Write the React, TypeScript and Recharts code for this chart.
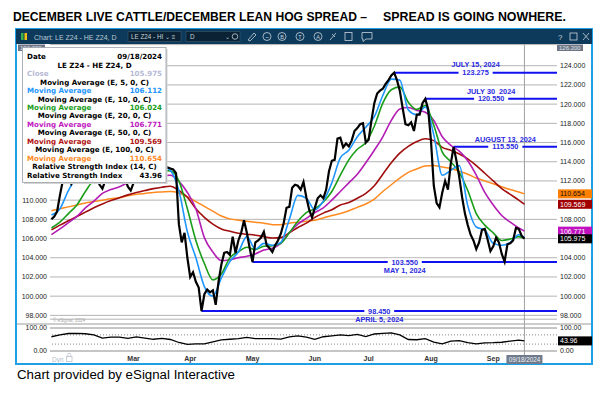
import React from "react";
import { LineChart, Line, XAxis, YAxis, CartesianGrid, ReferenceLine } from "recharts";

const FONT = "'Liberation Sans', Arial, sans-serif";
const BOX_FONT = "'DejaVu Sans', Verdana, sans-serif";

// x = trading-day index, 0 = Jan 2 2024. First bar on screen is day 12.
const firstDay = 12;
const lastDate = "09/18/2024";

const closeValues = [
  108.0, 108.3, 108.8, 110.5, 112.0, 112.8, 112.3, 111.7, 112.4, 113.2, // 12-21
  113.6, 113.2, 113.8, 114.2, 113.7, 113.1, 112.4, 111.6, 111.2, 112.0, // 22-31
  112.9, 113.5, 113.9, 113.4, 113.0, 112.7, 112.2, 111.4, 111.0, 111.8, // 32-41
  112.5, 113.0, 113.6, 113.9, 113.5, 113.8, 114.0, 113.7, 113.4, 113.6, // 42-51
  113.3, 113.4, 113.3, 113.2, 112.8, 107.5, 105.6, 106.6, 104.0, 102.0, // 52-61
  102.5, 101.5, 100.9, 98.45, 100.2, 100.7, 100.4, 100.6, 99.1, 101.5, // 62-71
  103.3, 104.5, 104.6, 104.3, 106.2, 104.5, 105.8, 106.6, 107.9, 106.6, // 72-81
  105.0, 103.55, 105.6, 105.8, 106.1, 106.7, 105.3, 105.0, 104.6, 105.3, // 82-91
  105.8, 106.5, 107.6, 109.2, 109.3, 111.3, 111.6, 111.5, 111.1, 111.9, // 92-101
  110.3, 109.0, 108.2, 109.2, 110.2, 110.5, 110.2, 111.1, 113.0, 114.1, // 102-111
  114.2, 116.4, 116.5, 115.5, 115.9, 115.6, 116.2, 117.2, 117.5, 117.9, // 112-121
  118.0, 116.0, 116.3, 118.3, 120.1, 121.1, 121.4, 121.6, 122.1, 122.5, // 122-131
  123.0, 123.275, 122.5, 121.4, 119.6, 117.9, 117.8, 118.1, 117.2, 118.9, // 132-141
  118.9, 120.1, 120.55, 119.5, 116.2, 111.5, 109.7, 109.25, 110.8, 112.0, // 142-151
  111.1, 113.8, 115.55, 114.1, 112.4, 110.3, 108.6, 107.4, 106.4, 105.8, // 152-161
  104.9, 105.6, 106.9, 107.0, 105.9, 104.7, 105.2, 106.1, 105.6, 104.4, // 162-171
  103.6, 105.4, 105.5, 105.8, 107.1, 107.0, 106.3, 105.975, // 172-179
];

// moving averages + RSI read every 3rd session
const studyDays = [
  12, 15, 18, 21, 24, 27, 30, 33, 36, 39, 42, 45, 48, 51, 54, 57, 60, 63, 66,
  69, 72, 75, 78, 81, 84, 87, 90, 93, 96, 99, 102, 105, 108, 111, 114, 117,
  120, 123, 126, 129, 132, 135, 138, 141, 144, 147, 150, 153, 156, 159, 162,
  165, 168, 171, 174, 177, 179,
];
const ema5 = [
  108.45, 109.1, 111.0, 112.4, 113.2, 113.5, 112.3, 112.6, 113.3, 112.4, 112.2,
  113.2, 113.7, 113.6, 113.1, 111.0, 106.7, 104.0, 101.0, 100.0, 101.9, 103.6,
  104.6, 106.2, 104.9, 105.5, 105.3, 105.6, 108.0, 110.5, 110.2, 109.0, 109.9,
  111.8, 114.4, 115.2, 116.6, 117.6, 118.7, 120.9, 122.6, 122.5, 119.4, 118.9,
  119.7, 116.8, 112.6, 113.1, 113.6, 109.4, 107.2, 106.9, 105.5, 105.3, 105.6,
  106.4, 106.112,
];
const ema10 = [
  107.1, 107.7, 108.6, 109.5, 110.9, 112.0, 112.1, 112.4, 112.7, 112.3, 112.3,
  112.7, 113.0, 113.1, 113.05, 112.0, 109.1, 105.8, 103.4, 101.7, 102.3, 104.0,
  104.6, 105.1, 104.85, 105.2, 105.25, 105.5, 106.6, 107.8, 108.7, 109.1, 109.8,
  110.9, 112.6, 114.2, 115.3, 116.0, 117.7, 120.1, 121.5, 121.8, 120.2, 119.45,
  119.85, 117.8, 115.0, 114.0, 112.9, 111.0, 108.6, 107.4, 106.6, 105.8, 105.95,
  106.2, 106.024,
];
const ema20 = [
  106.4, 107.0, 107.65, 108.3, 109.2, 109.9, 110.7, 111.1, 111.4, 111.8, 112.1,
  112.3, 112.45, 112.55, 112.6, 111.95, 110.8, 109.1, 106.1, 104.6, 103.7, 103.8,
  104.0, 104.15, 104.4, 104.8, 105.0, 105.5, 106.6, 107.5, 108.1, 108.7, 109.2,
  110.0, 110.9, 111.8, 112.7, 113.9, 115.2, 116.6, 118.3, 119.5, 119.65, 119.35,
  119.15, 118.3, 116.6, 115.7, 115.1, 114.1, 112.6, 110.8, 109.5, 108.4, 107.7,
  107.1, 106.771,
];
const ema50 = [
  106.9, 107.4, 107.85, 108.3, 108.75, 109.2, 109.6, 109.95, 110.25, 110.55,
  110.8, 111.0, 111.2, 111.35, 111.45, 111.0, 110.3, 109.1, 108.2, 107.5, 107.0,
  106.75, 106.55, 106.45, 106.35, 106.2, 106.05, 106.1, 106.6, 107.15, 107.6,
  108.2, 108.65, 109.0, 109.5, 109.75, 110.2, 110.7, 111.5, 112.7, 113.9, 114.9,
  115.6, 116.1, 116.4, 116.2, 115.5, 115.2, 114.8, 114.3, 113.6, 112.8, 112.0,
  111.2, 110.6, 110.0, 109.569,
];
const ema100 = [
  108.9, 109.1, 109.3, 109.5, 109.7, 109.85, 110.0, 110.15, 110.25, 110.45,
  110.6, 110.7, 110.8, 110.85, 110.9, 110.75, 110.35, 109.85, 109.35, 108.85,
  108.35, 108.05, 107.9, 107.8, 107.7, 107.6, 107.45, 107.45, 107.6, 107.7,
  107.8, 107.9, 108.15, 108.4, 108.6, 108.9, 109.25, 109.6, 110.1, 110.9, 111.6,
  112.3, 112.9, 113.25, 113.55, 113.6, 113.45, 113.3, 113.0, 112.7, 112.3, 112.0,
  111.7, 111.4, 111.1, 110.85, 110.654,
];
const rsi14 = [
  62, 70, 76, 77, 75, 70, 56, 60, 60, 55, 61, 56, 51, 55, 50, 37, 29, 31, 31, 40,
  48, 51, 54, 59, 54, 54, 54, 52, 61, 66, 60, 51, 62, 66, 70, 67, 72, 63, 74, 77,
  79, 70, 50, 49, 54, 39, 31, 43, 45, 36, 31, 35, 36, 38, 43, 47, 43.96,
];

const monthTicks = [41, 61, 83, 105, 124, 146, 168];
const monthNames = ["Mar", "Apr", "May", "Jun", "Jul", "Aug", "Sep"];
const priceTicks = [98, 100, 102, 104, 106, 108, 110, 112, 114, 116, 118, 120, 122, 124];
// left scale labels above 110 sit under the data window
const leftPriceTicks = [98, 100, 102, 104, 106, 108, 110];
// right scale labels hidden behind the last-value tags
const coveredRightTicks = [106, 110];

const levels = [
  { day: 65, value: 98.45, date: "APRIL 5, 2024", above: false },
  { day: 83, value: 103.55, date: "MAY 1, 2024", above: false },
  { day: 133, value: 123.275, date: "JULY 15, 2024", above: true },
  { day: 144, value: 120.55, date: "JULY 30  2024", above: true },
  { day: 154, value: 115.55, date: "AUGUST 13, 2024", above: true },
];

const X_DOMAIN: [number, number] = [11.5, 190.5];
const Y_DOMAIN: [number, number] = [97.6, 126.2];

const C_CLOSE = "#000000";
const C5 = "#1e96ff";
const C10 = "#1a9e1a";
const C20 = "#b41db4";
const C50 = "#a00d0d";
const C100 = "#ff8a1f";
const LEVEL = "#1010f0";
const LEVEL_TEXT = "#2a2ae0";
const GRID = "#b4b4b4";
const CURSOR = "#a0a0a0";

const closeData = closeValues.map((v, i) => ({ day: firstDay + i, v }));
const toSeries = (vals: number[]) => studyDays.map((d, i) => ({ day: d, v: vals[i] }));
const lastOf = (a: number[]) => a[a.length - 1];

function RightPriceTick({ x, y, payload }: any) {
  if (coveredRightTicks.includes(payload.value)) return <g />;
  return (
    <text x={x} y={y} dy="0.35em" textAnchor="start" fontSize={7} fontFamily={FONT} fill="#222">
      {Number(payload.value).toFixed(3)}
    </text>
  );
}

function PriceTag({ viewBox, text, bg, fg }: any) {
  if (!viewBox) return null;
  const x = viewBox.x + viewBox.width + 1;
  const y = viewBox.y;
  return (
    <g>
      <rect x={x} y={y - 4.5} width={34} height={9} fill={bg} />
      <text x={x + 2} y={y + 2.6} fontSize={7} fontFamily={FONT} fill={fg}>
        {text}
      </text>
    </g>
  );
}

function LevelLabel({ viewBox, text, date, above }: any) {
  if (!viewBox) return null;
  const cx = viewBox.x + viewBox.width / 2;
  const y = viewBox.y;
  const w = text.length * 4.3 + 4;
  return (
    <g fontFamily={FONT} fontWeight="bold" fontSize={7.3} fill={LEVEL_TEXT}>
      <rect x={cx - w / 2} y={y - 3.5} width={w} height={7} fill="#fff" />
      <text x={cx} y={y + 2.6} textAnchor="middle">{text}</text>
      <text x={cx} y={above ? y - 5.2 : y + 10.8} textAnchor="middle" style={{ whiteSpace: "pre" }}>
        {date}
      </text>
    </g>
  );
}

function CursorTag({ viewBox }: any) {
  if (!viewBox) return null;
  const x = viewBox.x;
  const bottom = viewBox.y + viewBox.height;
  return (
    <g>
      <line x1={x} x2={x} y1={viewBox.y - 10} y2={bottom + 4} stroke={CURSOR} />
      <rect x={x - 18} y={bottom + 4} width={36} height={9} fill="#6f7b8c" />
      <text x={x} y={bottom + 10.7} textAnchor="middle" fontSize={6.3} fontFamily={FONT} fill="#eef1f5">
        {lastDate}
      </text>
    </g>
  );
}

const axisTick = { fontSize: 7, fill: "#222", fontFamily: FONT };

function PriceChart() {
  return (
    <LineChart width={607} height={395} margin={{ top: 44.6, right: 16, bottom: 75.8, left: 16 }}>
      <CartesianGrid vertical={false} stroke={GRID} />
      <XAxis type="number" dataKey="day" domain={X_DOMAIN} allowDataOverflow hide />
      <YAxis
        orientation="right"
        width={34}
        domain={Y_DOMAIN}
        allowDataOverflow
        ticks={priceTicks}
        interval={0}
        tick={<RightPriceTick />}
        tickLine={false}
        axisLine={false}
        tickSize={0}
        tickMargin={3}
      />
      <YAxis
        yAxisId="L"
        orientation="left"
        width={34}
        domain={Y_DOMAIN}
        allowDataOverflow
        ticks={leftPriceTicks}
        interval={0}
        tickFormatter={(v: number) => v.toFixed(3)}
        tick={axisTick}
        tickLine={false}
        axisLine={false}
        tickSize={0}
        tickMargin={3}
      />
      <ReferenceLine x={179} stroke={CURSOR} />
      {levels.map((l) => (
        <ReferenceLine
          key={l.date}
          segment={[{ x: l.day, y: l.value }, { x: X_DOMAIN[1], y: l.value }]}
          stroke={LEVEL}
          strokeWidth={2}
          ifOverflow="visible"
          label={<LevelLabel text={l.value.toFixed(3)} date={l.date} above={l.above} />}
        />
      ))}
      <Line data={toSeries(ema100)} dataKey="v" type="monotone" stroke={C100} strokeWidth={1.5} dot={false} activeDot={false} isAnimationActive={false} />
      <Line data={toSeries(ema50)} dataKey="v" type="monotone" stroke={C50} strokeWidth={1.6} dot={false} activeDot={false} isAnimationActive={false} />
      <Line data={toSeries(ema20)} dataKey="v" type="monotone" stroke={C20} strokeWidth={1.6} dot={false} activeDot={false} isAnimationActive={false} />
      <Line data={toSeries(ema10)} dataKey="v" type="monotone" stroke={C10} strokeWidth={1.6} dot={false} activeDot={false} isAnimationActive={false} />
      <Line data={toSeries(ema5)} dataKey="v" type="monotone" stroke={C5} strokeWidth={1.6} dot={false} activeDot={false} isAnimationActive={false} />
      <Line data={closeData} dataKey="v" type="linear" stroke={C_CLOSE} strokeWidth={2.2} dot={false} activeDot={false} isAnimationActive={false} />
      <ReferenceLine y={lastOf(ema100)} stroke="none" ifOverflow="visible" label={<PriceTag text={lastOf(ema100).toFixed(3)} bg="#ff7f00" fg="#111" />} />
      <ReferenceLine y={lastOf(ema50)} stroke="none" ifOverflow="visible" label={<PriceTag text={lastOf(ema50).toFixed(3)} bg="#a00000" fg="#fff" />} />
      <ReferenceLine y={lastOf(ema20)} stroke="none" ifOverflow="visible" label={<PriceTag text={lastOf(ema20).toFixed(3)} bg="#c010c0" fg="#fff" />} />
      <ReferenceLine y={lastOf(closeValues)} stroke="none" ifOverflow="visible" label={<PriceTag text={lastOf(closeValues).toFixed(3)} bg="#000" fg="#fff" />} />
    </LineChart>
  );
}

function RsiChart() {
  return (
    <LineChart width={607} height={395} margin={{ top: 328, right: 16, bottom: 30, left: 16 }}>
      <CartesianGrid vertical={false} stroke="#8c8c8c" />
      <XAxis
        type="number"
        dataKey="day"
        domain={X_DOMAIN}
        allowDataOverflow
        ticks={monthTicks}
        interval={0}
        tickFormatter={(v: number) => monthNames[monthTicks.indexOf(v)] ?? ""}
        tick={{ fontSize: 7, fill: "#333", fontFamily: FONT, fontWeight: "bold" }}
        tickLine={false}
        axisLine={false}
        tickSize={0}
        tickMargin={5.5}
        height={14}
      />
      <YAxis
        orientation="right"
        width={34}
        domain={[0, 100]}
        allowDataOverflow
        ticks={[0, 100]}
        interval={0}
        tickFormatter={(v: number) => v.toFixed(2)}
        tick={axisTick}
        tickLine={false}
        axisLine={false}
        tickSize={0}
        tickMargin={3}
      />
      <YAxis
        yAxisId="L"
        orientation="left"
        width={34}
        domain={[0, 100]}
        allowDataOverflow
        ticks={[0, 100]}
        interval={0}
        tickFormatter={(v: number) => v.toFixed(2)}
        tick={axisTick}
        tickLine={false}
        axisLine={false}
        tickSize={0}
        tickMargin={3}
      />
      <ReferenceLine y={70} stroke="#888" strokeDasharray="1 2" />
      <ReferenceLine y={30} stroke="#888" strokeDasharray="1 2" />
      <ReferenceLine x={179} stroke="none" ifOverflow="visible" label={<CursorTag />} />
      <Line data={toSeries(rsi14)} dataKey="v" type="linear" stroke="#000" strokeWidth={1.3} dot={false} activeDot={false} isAnimationActive={false} />
      <ReferenceLine y={lastOf(rsi14)} stroke="none" ifOverflow="visible" label={<PriceTag text={lastOf(rsi14).toFixed(2)} bg="#000" fg="#fff" />} />
    </LineChart>
  );
}

function Backdrop() {
  const icon = { fill: "none", stroke: "#c9d3dd", strokeWidth: 0.8 };
  return (
    <svg width={607} height={395} style={{ position: "absolute", left: 0, top: 0 }}>
      <text x={13} y={21} fontFamily={FONT} fontWeight="bold" fontSize={12.5} textLength={354} lengthAdjust="spacingAndGlyphs">
        DECEMBER LIVE CATTLE/DECEMBER LEAN HOG SPREAD –
      </text>
      <text x={383} y={21} fontFamily={FONT} fontWeight="bold" fontSize={12.5} textLength={183} lengthAdjust="spacingAndGlyphs">
        SPREAD IS GOING NOWHERE.
      </text>
      <rect x={16} y={29} width={576} height={335} fill="#fff" stroke="#1fa0e4" strokeWidth={2} />
      <rect x={16} y={29} width={576} height={15} fill="#0d3a5a" />
      <rect x={21} y={33} width={2.5} height={7} fill="#37b34a" />
      <rect x={24.5} y={33} width={2.5} height={7} fill="#f2c012" />
      <text x={34} y={39.5} fontSize={7} fontFamily={FONT} fill="#b9c6d2">Chart: LE Z24 - HE Z24, D</text>
      <rect x={128} y={31.5} width={53} height={10} fill="#0a2233" stroke="#46627a" strokeWidth={0.5} />
      <text x={131} y={39} fontSize={6.3} fontFamily={FONT} fill="#c8d2dc">LE Z24 - HI ⌄ ≡</text>
      <rect x={186} y={31.5} width={54} height={10} fill="#0a2233" stroke="#46627a" strokeWidth={0.5} />
      <text x={190} y={39} fontSize={6.3} fontFamily={FONT} fill="#c8d2dc">D</text>
      <text x={225} y={39} fontSize={6.3} fontFamily={FONT} fill="#c8d2dc">⌄</text>
      <circle cx={235} cy={36.5} r={2.8} {...icon} />
      <path d="M248 40 L254 33 L256 35 L250 41 Z" {...icon} />
      {[267, 282, 300, 318].map((cx, i) => (
        <g key={cx}>
          <circle cx={cx} cy={36.5} r={4} {...icon} />
          <text x={cx} y={38.8} textAnchor="middle" fontSize={5.5} fontFamily={FONT} fill="#c9d3dd">
            {["~", "B", "T", "A"][i]}
          </text>
        </g>
      ))}
      <path d="M330 40 L336 33 M332 34 L335 37" {...icon} />
      <rect x={345} y={32.5} width={7} height={8} {...icon} />
      <path d="M362 32.5 H372 V39 H366 L363 41.5 V39 H362 Z" {...icon} />
      <text x={558} y={39.5} fontSize={8} fontFamily={FONT} fill="#c9d3dd">?</text>
      <rect x={570} y={33} width={7} height={7} {...icon} />
      <path d="M583 33 L589 40 M589 33 L583 40" {...icon} />
      <line x1={17} x2={591} y1={324} y2={324} stroke="#9a9a9a" strokeWidth={1} />
      <text x={17} y={379} fontFamily={FONT} fontSize={12.5} textLength={218} lengthAdjust="spacingAndGlyphs">
        Chart provided by eSignal Interactive
      </text>
    </svg>
  );
}

function Overlay() {
  const rows = [
    { type: "pair", l: "Date", r: lastDate, c: "#000" },
    { type: "head", t: "LE Z24 - HE Z24, D" },
    { type: "pair", l: "Close", r: lastOf(closeValues).toFixed(3), c: "#b6bad6" },
    { type: "head", t: "Moving Average (E, 5, 0, C)" },
    { type: "pair", l: "Moving Average", r: lastOf(ema5).toFixed(3), c: C5 },
    { type: "head", t: "Moving Average (E, 10, 0, C)" },
    { type: "pair", l: "Moving Average", r: lastOf(ema10).toFixed(3), c: C10 },
    { type: "head", t: "Moving Average (E, 20, 0, C)" },
    { type: "pair", l: "Moving Average", r: lastOf(ema20).toFixed(3), c: "#c020c0" },
    { type: "head", t: "Moving Average (E, 50, 0, C)" },
    { type: "pair", l: "Moving Average", r: lastOf(ema50).toFixed(3), c: "#b01414" },
    { type: "head", t: "Moving Average (E, 100, 0, C)" },
    { type: "pair", l: "Moving Average", r: lastOf(ema100).toFixed(3), c: C100 },
    { type: "head", t: "Relative Strength Index (14, C)" },
    { type: "pair", l: "Relative Strength Index", r: lastOf(rsi14).toFixed(2), c: "#000" },
  ];
  return (
    <svg width={607} height={395} style={{ position: "absolute", left: 0, top: 0, pointerEvents: "none" }}>
      {/* axis max tags */}
      <rect x={557} y={44.5} width={26} height={6.5} fill="#6e7585" />
      <text x={559} y={50} fontSize={6} fontFamily={FONT} fill="#dfe3ea">126.200</text>
      <rect x={18} y={44.5} width={27} height={6.5} fill="#6e7585" />
      <text x={20} y={50} fontSize={6} fontFamily={FONT} fill="#dfe3ea">126.200</text>
      <text x={53} y={322} fontSize={4.5} fontFamily={FONT} fill="#a8a8a8">© eSignal, 2024</text>
      <text x={52} y={361.5} fontSize={6.5} fontFamily={FONT} fill="#b4bccb">Dyn</text>
      <rect x={66.5} y={356.5} width={5.5} height={5} fill="none" stroke="#b4bccb" strokeWidth={0.7} />
      <path d="M67.7 356.5 V354.8 A1.5 1.5 0 0 1 70.8 354.8 V356.5" fill="none" stroke="#b4bccb" strokeWidth={0.7} />
      {/* data window */}
      <rect x={24} y={49} width={143.5} height={135} fill="#d4d4d4" />
      <rect x={22.5} y={47.5} width={143.5} height={135} fill="#fff" stroke="#9aa0a8" strokeWidth={0.8} />
      <g fontFamily={BOX_FONT} fontWeight="bold" fontSize={7.1}>
        {rows.map((row: any, i) => {
          const y = 56.7 + i * 8.45 + 2.6;
          if (row.type === "head") {
            return (
              <text key={i} x={94.5} y={y} textAnchor="middle" fill="#000">
                {row.t}
              </text>
            );
          }
          return (
            <g key={i} fill={row.c}>
              <text x={27} y={y}>{row.l}</text>
              <text x={162} y={y} textAnchor="end">{row.r}</text>
            </g>
          );
        })}
      </g>
    </svg>
  );
}

export default function App() {
  return (
    <div style={{ position: "fixed", left: 0, top: 0, width: 607, height: 395, background: "#fff", overflow: "hidden" }}>
      <Backdrop />
      <div style={{ position: "absolute", left: 0, top: 0 }}>
        <PriceChart />
      </div>
      <div style={{ position: "absolute", left: 0, top: 0 }}>
        <RsiChart />
      </div>
      <Overlay />
    </div>
  );
}
